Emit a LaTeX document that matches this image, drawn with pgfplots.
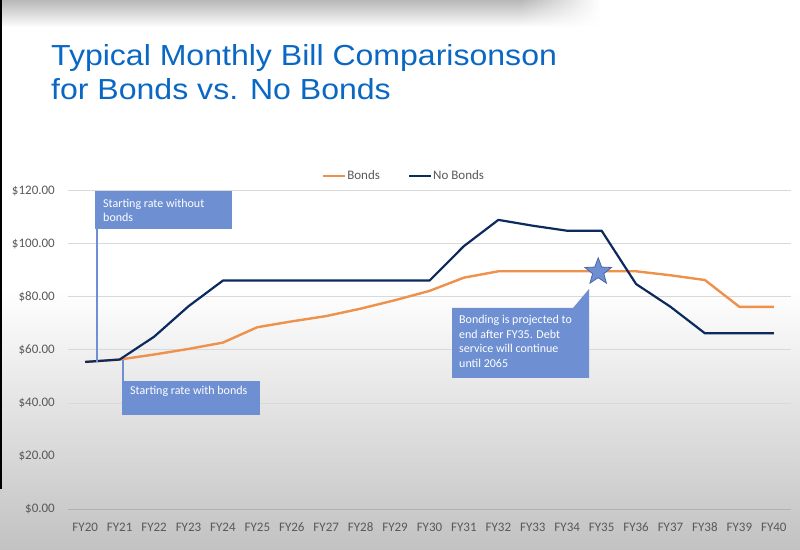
\documentclass[border=0pt]{standalone}
\usepackage{pgfplots}
\pgfplotsset{compat=1.18}
\usetikzlibrary{fadings}
\usepackage{fontspec}
\setmainfont{Carlito}
\newfontfamily\titlefont{Liberation Sans}
\definecolor{bondorange}{HTML}{EE914A}
\definecolor{navy}{HTML}{0C2A5E}
\definecolor{boxblue}{HTML}{6E90D2}
\definecolor{titleblue}{HTML}{0A68C4}
\definecolor{ticktext}{HTML}{595959}
\definecolor{gridgray}{HTML}{D9D9D9}
\definecolor{stargray}{HTML}{4A66A8}

\pgfdeclareplotmark{fstar}{%
  \pgfpathmoveto{\pgfpointpolar{90}{\pgfplotmarksize}}%
  \pgfpathlineto{\pgfpointpolar{126}{0.42\pgfplotmarksize}}%
  \pgfpathlineto{\pgfpointpolar{162}{\pgfplotmarksize}}%
  \pgfpathlineto{\pgfpointpolar{198}{0.42\pgfplotmarksize}}%
  \pgfpathlineto{\pgfpointpolar{234}{\pgfplotmarksize}}%
  \pgfpathlineto{\pgfpointpolar{270}{0.42\pgfplotmarksize}}%
  \pgfpathlineto{\pgfpointpolar{306}{\pgfplotmarksize}}%
  \pgfpathlineto{\pgfpointpolar{342}{0.42\pgfplotmarksize}}%
  \pgfpathlineto{\pgfpointpolar{18}{\pgfplotmarksize}}%
  \pgfpathlineto{\pgfpointpolar{54}{0.42\pgfplotmarksize}}%
  \pgfpathclose
  \pgfusepathqfillstroke
}

\begin{document}
\begin{tikzpicture}[x=1pt,y=1pt]
% background
\path[use as bounding box] (0,0) rectangle (800,549);
\fill[white] (0,0) rectangle (800,549);
\shade[top color=white, bottom color=black!24] (0,0) rectangle (800,260);
\fill[white] (0,260) rectangle (800,549);
\fill[black!28, path fading=south] (0,522) rectangle (520,549);
\shade[left color=black!28, right color=white, path fading=south] (520,522) rectangle (600,549);
\fill[black] (0,60) rectangle (1.6,549);

% title
\node[anchor=base west, inner sep=0pt, font=\titlefont\fontsize{29}{34}\selectfont, text=titleblue] at (51,483.3) {\scalebox{1.105}[1]{Typical Monthly Bill Comparisonson}};
\node[anchor=base west, inner sep=0pt, font=\titlefont\fontsize{29}{34}\selectfont, text=titleblue] at (51,449) {\scalebox{1.105}[1]{for Bonds vs. No Bonds}};

\begin{axis}[
  at={(68pt,40pt)}, anchor=south west,
  width=723pt, height=318pt, scale only axis,
  xmin=-0.5, xmax=20.5, ymin=0, ymax=120,
  ytick={0,20,40,60,80,100,120},
  xtick={0,...,20},
  xticklabels={FY20,FY21,FY22,FY23,FY24,FY25,FY26,FY27,FY28,FY29,FY30,FY31,FY32,FY33,FY34,FY35,FY36,FY37,FY38,FY39,FY40},
  ymajorgrids, grid style={gridgray, line width=1pt},
  axis line style={draw=none},
  major tick length=0pt,
  /pgf/number format/assume math mode=true,
  tick label style={font=\fontsize{13}{15}\selectfont, text=ticktext, inner sep=0pt},
  yticklabel={\$\pgfmathprintnumber[fixed,fixed zerofill,precision=2]{\tick}},
  yticklabel style={anchor=east, xshift=-13pt},
  xticklabel style={anchor=base, yshift=-22pt},
  clip=false,
  legend columns=2,
  legend style={at={(0.464,1.047)}, anchor=center, draw=none, fill=none,
    inner sep=0pt, font=\fontsize{13}{15}\selectfont, text=ticktext,
    /tikz/every even column/.append style={column sep=27pt},
    nodes={inner sep=1pt}},
  legend image code/.code={\draw[#1] (0pt,0pt) -- (22pt,0pt);},
]
\draw[gray!60, line width=1pt] (axis cs:-0.5,0) -- (axis cs:20.5,0);

\addplot[bondorange, line width=2.4pt, line join=round] coordinates {
(0,55.5) (1,56.4) (2,58.3) (3,60.4) (4,62.8) (5,68.6) (6,70.8) (7,72.8) (8,75.6) (9,78.8) (10,82.3)
(11,87.3) (12,89.7) (13,89.7) (14,89.7) (15,89.7) (16,89.7) (17,88.2) (18,86.4) (19,76.3) (20,76.3)};
\addlegendentry{Bonds}
\addplot[navy, line width=2.2pt, line join=round] coordinates {
(0,55.5) (1,56.4) (2,65.0) (3,76.5) (4,86.2) (5,86.2) (6,86.2) (7,86.2) (8,86.2) (9,86.2) (10,86.2)
(11,99.2) (12,109.1) (13,106.9) (14,105.0) (15,105.0) (16,84.9) (17,76.3) (18,66.3) (19,66.3) (20,66.3)};
\addlegendentry{No Bonds}
\addplot[only marks, mark=fstar, mark size=14pt, fill=boxblue, draw=stargray, line width=0.8pt, forget plot] coordinates {(14.9,89.5)};
\end{axis}

% callout 1
\fill[boxblue] (95,358) rectangle (232,320);
\draw[boxblue, line width=2pt] (96.5,320) -- (96.5,187);
\node[anchor=base west, inner sep=0pt, text=white, font=\fontsize{12}{14}\selectfont] at (103,341) {Starting rate without};
\node[anchor=base west, inner sep=0pt, text=white, font=\fontsize{12}{14}\selectfont] at (103,327) {bonds};

% callout 2
\fill[boxblue] (122,168) rectangle (260,134);
\draw[boxblue, line width=2pt] (123,168) -- (123,189);
\node[anchor=base west, inner sep=0pt, text=white, font=\fontsize{12}{14}\selectfont] at (130,154) {Starting rate with bonds};

% callout 3
\fill[boxblue] (452,241) -- (573,241) -- (589,260) -- (589,241) -- (589,171) -- (452,171) -- cycle;
\node[anchor=base west, inner sep=0pt, text=white, font=\fontsize{12}{14}\selectfont] at (459,225) {Bonding is projected to};
\node[anchor=base west, inner sep=0pt, text=white, font=\fontsize{12}{14}\selectfont] at (459,210.5) {end after FY35. Debt};
\node[anchor=base west, inner sep=0pt, text=white, font=\fontsize{12}{14}\selectfont] at (459,196) {service will continue};
\node[anchor=base west, inner sep=0pt, text=white, font=\fontsize{12}{14}\selectfont] at (459,181.5) {until 2065};
\end{tikzpicture}
\end{document}
